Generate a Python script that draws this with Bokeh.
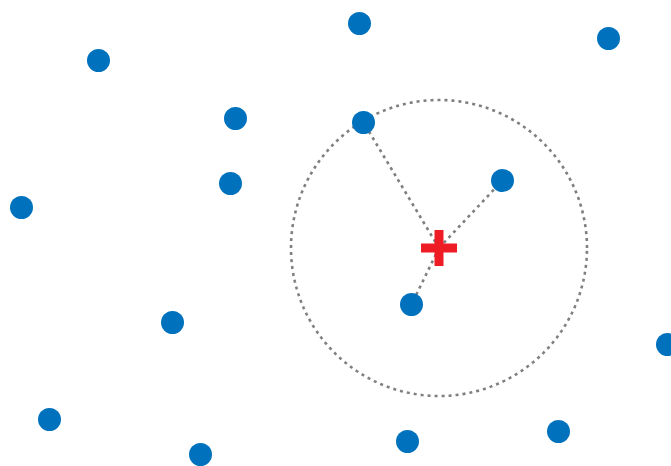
from bokeh.plotting import figure
from bokeh.models import Range1d
from bokeh.embed import file_html
from bokeh.resources import INLINE
import numpy as np

# points (x, y) in plot units (pixel-like, y up)
px = [98, 359, 608, 235, 363, 502, 230, 21, 172, 411, 667, 49, 200, 407, 558]
py = [406, 443, 428, 348, 344, 286, 283, 259, 144, 162, 122, 47, 12, 25, 35]

# query point and radius
cx = [438.5]
cy = [218.5]
radius = [148]

# neighbours within radius
nx = [363, 502, 411]
ny = [344, 286, 162]

p = figure(width=671, height=466, output_backend="svg", toolbar_location=None,
           x_range=Range1d(0, 671), y_range=Range1d(0, 466),
           min_border=0, outline_line_color=None)
p.axis.visible = False
p.grid.visible = False
p.background_fill_color = "white"
p.border_fill_color = "white"

t = np.linspace(0, 2 * np.pi, 400)
p.line(cx[0] + radius[0] * np.cos(t), cy[0] + radius[0] * np.sin(t),
       line_color="#7f7f7f", line_width=2.6, line_dash="3 4")

for x, y in zip(nx, ny):
    p.line([cx[0], x], [cy[0], y], line_color="#7f7f7f", line_width=2.6, line_dash="3 4")

p.scatter(px, py, size=23, fill_color="#0072bd", line_color=None)

p.scatter(cx, cy, marker="cross", size=36, line_color="#ee1c25", line_width=9)

open("out.html", "w").write(file_html(p, INLINE))
